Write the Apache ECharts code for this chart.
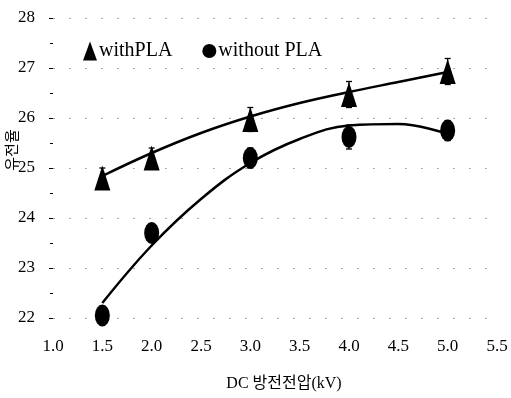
<!DOCTYPE html>
<html>
<head>
<meta charset="utf-8">
<script src="https://cdn.jsdelivr.net/npm/echarts@6/dist/echarts.min.js"></script>
<style>
	html, body {margin: 0; padding: 0; background: #fff;}
	#chart {width: 511px; height: 398px;}
</style>
</head>
<body>
<div id="chart"></div>
<script>
	// measured points (kV, dielectric constant)
	var voltage = [1.5, 2.0, 3.0, 4.0, 5.0];
	var withPLA = [24.8, 25.2, 25.97, 26.47, 26.93];
	var withoutPLA = [22.05, 23.7, 25.2, 25.62, 25.75];
	var withErr = [0.2, 0.2, 0.24, 0.26, 0.26];
	var withoutErr = [0.18, 0.18, 0.2, 0.24, 0.2];

	// fitted trend lines
	var curveX = [1.5, 2.0, 2.5, 3.0, 3.5, 4.0, 4.5, 5.0];
	var withCurve = [24.84, 25.3, 25.7, 26.03, 26.3, 26.52, 26.72, 26.92];
	var withoutCurve = [22.3, 23.45, 24.38, 25.1, 25.58, 25.85, 25.88, 25.68];

	var font = '"Liberation Serif", "Noto Sans CJK KR", serif';
	var ellipse = 'path://M0,-1A1,1 0 1,1 0,1A1,1 0 1,1 0,-1Z';

	function pairs(xs, ys){
		return xs.map(function(x, i){ return [x, ys[i]]; });
	}
	function errPairs(xs, ys, es){
		return xs.map(function(x, i){ return [x, ys[i] - es[i], ys[i] + es[i]]; });
	}

	function renderErr(params, api){
		var lo = api.coord([api.value(0), api.value(1)]);
		var hi = api.coord([api.value(0), api.value(2)]);
		var w = 3;
		var st = {stroke: '#000', lineWidth: 1.3};
		return {
			type: 'group',
			children: [
				{type: 'line', shape: {x1: hi[0], y1: hi[1], x2: lo[0], y2: lo[1]}, style: st},
				{type: 'line', shape: {x1: hi[0] - w, y1: hi[1], x2: hi[0] + w, y2: hi[1]}, style: st},
				{type: 'line', shape: {x1: lo[0] - w, y1: lo[1], x2: lo[0] + w, y2: lo[1]}, style: st}
			]
		};
	}

	var chart = echarts.init(document.getElementById('chart'));
	var option = {
		animation: false,
		backgroundColor: '#fff',
		textStyle: {fontFamily: font, color: '#000'},
		legend: {
			left: 78,
			top: 36,
			itemGap: 30,
			itemWidth: 14,
			itemHeight: 19,
			textStyle: {fontFamily: font, fontSize: 20, color: '#000', padding: [0, 0, 0, -3]},
			data: [
				{name: 'withPLA', icon: 'triangle'},
				{name: 'without PLA', icon: ellipse}
			]
		},
		grid: {left: 53, right: 14, top: 18, bottom: 80, outerBoundsMode: 'none', containLabel: false},
		xAxis: {
			type: 'value',
			min: 1.0,
			max: 5.5,
			interval: 0.5,
			name: 'DC 방전전압(kV)',
			nameLocation: 'middle',
			nameGap: 58,
			nameMoveOverlap: false,
			nameTextStyle: {fontFamily: font, fontSize: 16, color: '#000', padding: [0, 0, 0, 18]},
			axisLine: {show: false},
			axisTick: {show: false},
			axisLabel: {
				margin: 20,
				fontFamily: font,
				fontSize: 17,
				color: '#000',
				formatter: function(v){ return v.toFixed(1); }
			},
			splitLine: {show: false}
		},
		yAxis: {
			type: 'value',
			min: 22,
			max: 28,
			interval: 1,
			name: '유전율',
			nameLocation: 'middle',
			nameGap: 32,
			nameMoveOverlap: false,
			nameTextStyle: {fontFamily: font, fontSize: 15, color: '#000', padding: [0, 0, 0, 36]},
			axisLine: {show: false},
			axisTick: {show: true, length: 4, lineStyle: {color: '#000', width: 1}},
			minorTick: {show: true, splitNumber: 2, length: 3, lineStyle: {color: '#000'}},
			axisLabel: {
				margin: 18,
				fontFamily: font,
				fontSize: 17,
				color: '#000'
			},
			splitLine: {show: true, lineStyle: {color: '#aaa', type: [2, 14], width: 1}}
		},
		series: [{
			name: 'fitWith',
			type: 'line',
			smooth: 0.4,
			showSymbol: false,
			lineStyle: {color: '#000', width: 2.5},
			data: pairs(curveX, withCurve),
			z: 2
		}, {
			name: 'fitWithout',
			type: 'line',
			smooth: 0.4,
			showSymbol: false,
			lineStyle: {color: '#000', width: 2.5},
			data: pairs(curveX, withoutCurve),
			z: 2
		}, {
			name: 'errWith',
			type: 'custom',
			renderItem: renderErr,
			data: errPairs(voltage, withPLA, withErr),
			z: 3
		}, {
			name: 'errWithout',
			type: 'custom',
			renderItem: renderErr,
			data: errPairs(voltage, withoutPLA, withoutErr),
			z: 3
		}, {
			name: 'withPLA',
			type: 'scatter',
			symbol: 'triangle',
			symbolSize: [16, 25],
			itemStyle: {color: '#000', opacity: 1},
			data: pairs(voltage, withPLA),
			z: 4
		}, {
			name: 'without PLA',
			type: 'scatter',
			symbol: ellipse,
			symbolSize: [15, 22],
			itemStyle: {color: '#000', opacity: 1},
			data: pairs(voltage, withoutPLA),
			z: 4
		}]
	};
	chart.setOption(option);
</script>
</body>
</html>
